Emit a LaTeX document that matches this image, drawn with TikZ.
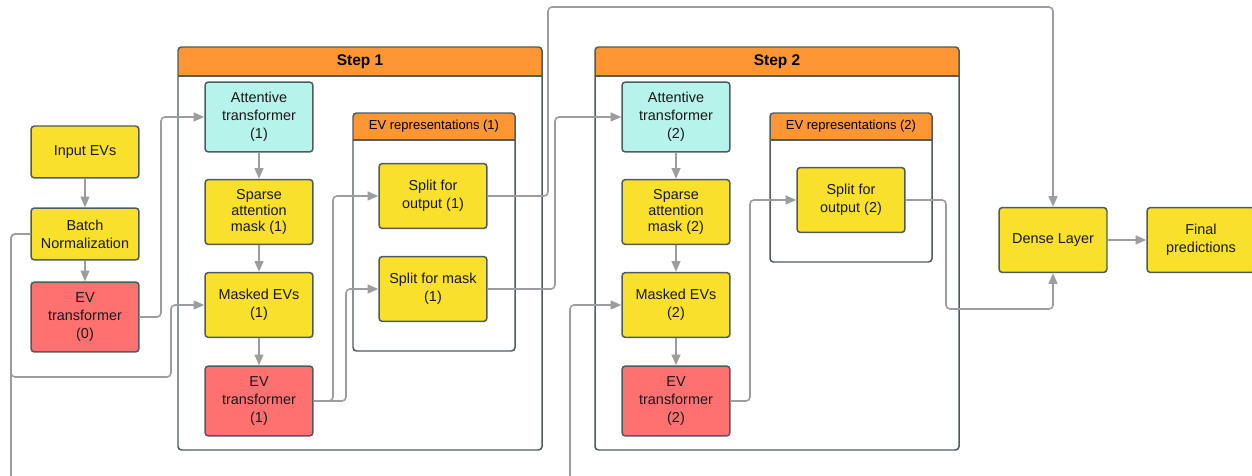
\documentclass[tikz,border=0pt]{standalone}
\usepackage{fontspec}
\setmainfont{Liberation Sans}
\usepackage{tikz}
\usetikzlibrary{positioning,calc,arrows.meta}
\tikzset{>={Triangle[length=6pt,width=5pt]}}

\definecolor{framegray}{RGB}{78,91,95}
\definecolor{linegray}{RGB}{155,157,160}
\definecolor{boxyellow}{RGB}{249,224,43}
\definecolor{boxred}{RGB}{255,112,112}
\definecolor{boxcyan}{RGB}{182,243,235}
\definecolor{hdorange}{RGB}{253,150,51}

% group frame with orange header: x1,y1,x2,y2,header bottom
\newcommand{\groupbox}[5]{%
  \begin{scope}
    \clip[rounded corners=0.07cm] (#1,#2) rectangle (#3,#4);
    \fill[hdorange] (#1,#2) rectangle (#3,#5);
  \end{scope}
  \draw[frame] (#1,#2) rectangle (#3,#4);
  \draw[frame] (#1,#5) -- (#3,#5);
}

\begin{document}
\begin{tikzpicture}[%
                    x=0.02cm,y=-0.02cm,
                    font=\fontsize{8.2}{10.3}\selectfont,
                    frame/.style={draw=framegray,line width=0.85pt,rounded corners=0.07cm},
                    block/.style={draw=framegray,line width=0.85pt,rounded corners=0.07cm,
                                  minimum width=2.16cm,minimum height=1.3cm,align=center,
                                  inner sep=1pt,text=black!90},
                    data/.style={block,fill=boxyellow},
                    sparse/.style={data,font=\fontsize{8.2}{9}\selectfont},
                    small/.style={data,minimum height=1.04cm},
                    trans/.style={block,fill=boxred,minimum height=1.4cm},
                    attn/.style={block,fill=boxcyan,minimum height=1.4cm},
                    steptitle/.style={font=\bfseries\fontsize{8.8}{10}\selectfont},
                    reptitle/.style={font=\fontsize{7.4}{9}\selectfont},
                    flow/.style={->,draw=linegray,line width=0.9pt,rounded corners=0.08cm}
        ]
    \useasboundingbox (0,0) rectangle (1252,476);

    % steps and representations
    \groupbox{178}{47}{542}{450}{76}
    \groupbox{353}{113}{515}{351}{140}
    \groupbox{595}{47}{959}{450}{76}
    \groupbox{770}{113}{932}{262}{140}
    \node[steptitle] (step1) at (360,61.5) {Step 1};
    \node[steptitle] (step2) at (777,61.5) {Step 2};
    \node[reptitle] (rep1) at (434,126.5) {EV representations (1)};
    \node[reptitle] (rep2) at (851,126.5) {EV representations (2)};

    % input part
    \node[small] (inp) at (85,152) {Input EVs};
    \node[small] (bn) at (85,234) {Batch\\Normalization};
    \node[trans] (evt0) at (85,317) {EV\\transformer\\(0)};

    % step 1
    \node[attn] (att1) at (259,117) {Attentive\\transformer\\(1)};
    \node[sparse] (sam1) at (259,212) {Sparse\\attention\\mask (1)};
    \node[data] (mev1) at (259,305) {Masked EVs\\(1)};
    \node[trans] (evt1) at (259,401) {EV\\transformer\\(1)};
    \node[data] (spo1) at (433,196) {Split for\\output (1)};
    \node[data] (spm1) at (433,289) {Split for mask\\(1)};

    % step 2
    \node[attn] (att2) at (676,117) {Attentive\\transformer\\(2)};
    \node[sparse] (sam2) at (676,212) {Sparse\\attention\\mask (2)};
    \node[data] (mev2) at (676,305) {Masked EVs\\(2)};
    \node[trans] (evt2) at (676,401) {EV\\transformer\\(2)};
    \node[data] (spo2) at (851,200) {Split for\\output (2)};

    % output part
    \node[data] (dense) at (1053,240) {Dense Layer};
    \node[data] (final) at (1201,240) {Final\\predictions};

    % connectors
    \draw[flow] (inp) -- (bn);
    \draw[flow] (bn) -- (evt0);
    \draw[flow] (evt0.east) -| (161,117) -- (att1.west);
    \draw[flow] (bn.west) -| (11,377) -| (171,305) -- (mev1.west);
    \draw[flow] (bn.west) -| (11,490) -| (570,305) -- (mev2.west);
    \draw[flow] (att1) -- (sam1);
    \draw[flow] (sam1) -- (mev1);
    \draw[flow] (mev1) -- (evt1);
    \draw[flow] (evt1.east) -| (333,196) -- (spo1.west);
    \draw[flow] (evt1.east) -| (346,289) -- (spm1.west);
    \draw[flow] (spo1.east) -| (548,7) -| (dense.north);
    \draw[flow] (spm1.east) -| (555,117) -- (att2.west);
    \draw[flow] (att2) -- (sam2);
    \draw[flow] (sam2) -- (mev2);
    \draw[flow] (mev2) -- (evt2);
    \draw[flow] (evt2.east) -| (750,200) -- (spo2.west);
    \draw[flow] (spo2.east) -| (946,309) -| (dense.south);
    \draw[flow] (dense) -- (final);
\end{tikzpicture}
\end{document}
